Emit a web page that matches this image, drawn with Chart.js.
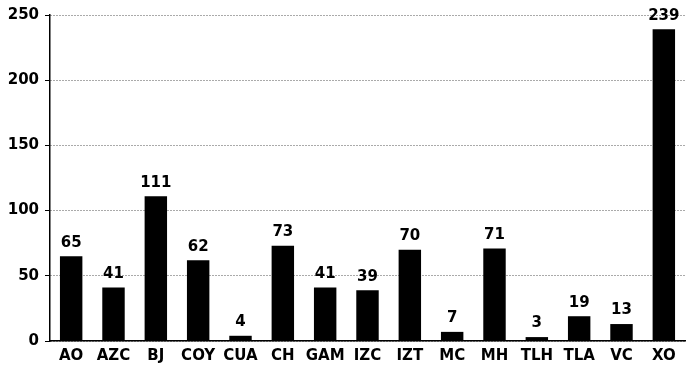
<!DOCTYPE html>
<html>
<head>
<meta charset="utf-8">
<script src="https://cdn.jsdelivr.net/npm/chart.js@4"></script>
<style>
  html, body { margin: 0; padding: 0; background: #fff; }
  #wrap { width: 686px; height: 367px; }
</style>
</head>
<body>
<div id="wrap"><canvas id="chart" width="686" height="367"></canvas></div>
<script>
const categories = ['AO', 'AZC', 'BJ', 'COY', 'CUA', 'CH', 'GAM', 'IZC', 'IZT', 'MC', 'MH', 'TLH', 'TLA', 'VC', 'XO'];
const counts = [65, 41, 111, 62, 4, 73, 41, 39, 70, 7, 71, 3, 19, 13, 239];
const yTicks = [0, 50, 100, 150, 200, 250];

const FONT = '"DejaVu Sans", "Liberation Sans", Arial, sans-serif';

// draws the number above each bar
const barLabels = {
    id: 'barLabels',
    afterDatasetsDraw(chart) {
        const ctx = chart.ctx;
        const meta = chart.getDatasetMeta(0);
        ctx.save();
        ctx.font = 'bold 15px ' + FONT;
        ctx.fillStyle = '#000';
        ctx.textAlign = 'center';
        ctx.textBaseline = 'bottom';
        meta.data.forEach((bar, i) => {
            ctx.fillText(String(counts[i]), bar.x, bar.y - 6);
        });
        ctx.restore();
    }
};

new Chart(document.getElementById('chart'), {
    type: 'bar',
    data: {
        labels: categories,
        datasets: [{
            data: counts,
            backgroundColor: '#000',
            borderWidth: 0,
            barPercentage: 0.53,
            categoryPercentage: 1
        }]
    },
    options: {
        responsive: false,
        animation: false,
        layout: { padding: { top: 15, right: 1, left: 0, bottom: 0 } },
        plugins: {
            legend: { display: false },
            tooltip: { enabled: false }
        },
        scales: {
            x: {
                grid: { display: false, drawTicks: false },
                border: { color: '#000', width: 1.5 },
                ticks: {
                    color: '#000',
                    padding: 6,
                    font: { family: FONT, size: 15, weight: 'bold' },
                    maxRotation: 0,
                    autoSkip: false
                },
                afterFit(scale) { scale.height = 26; }
            },
            y: {
                min: 0,
                max: 250,
                afterBuildTicks(scale) {
                    scale.ticks = yTicks.map(v => ({ value: v }));
                },
                grid: {
                    color: '#555',
                    lineWidth: 1,
                    tickColor: '#000',
                    tickLength: 5,
                    tickBorderDash: [1, 0]
                },
                border: { color: '#000', width: 1.5, dash: [1, 2] },
                ticks: {
                    color: '#000',
                    padding: 6,
                    font: { family: FONT, size: 15, weight: 'bold' }
                },
                afterFit(scale) { scale.width = 50; }
            }
        }
    },
    plugins: [barLabels]
});
</script>
</body>
</html>
